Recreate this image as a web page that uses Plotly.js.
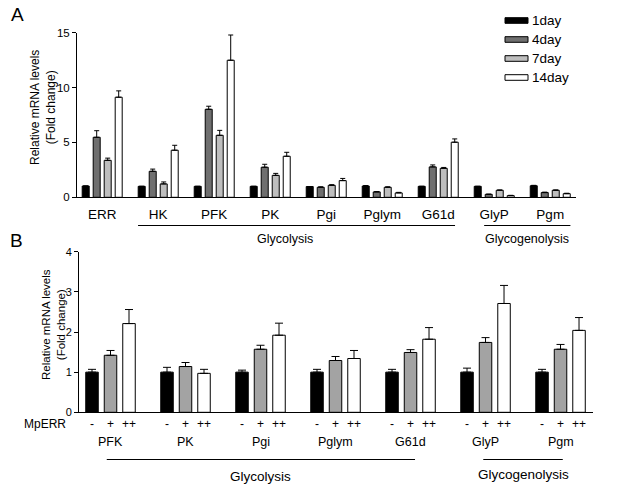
<!DOCTYPE html>
<html>
<head>
<meta charset="utf-8">
<script src="https://cdn.plot.ly/plotly-3.0.1.min.js"></script>
<style>html,body{margin:0;padding:0;background:#fff;}#chart{width:622px;height:487px;}</style>
</head>
<body>
<div id="chart"></div>
<script>
// ---------- Panel A data ----------
var genesA = ['ERR','HK','PFK','PK','Pgi','Pglym','G61d','GlyP','Pgm'];
var seriesA = ['1day','4day','7day','14day'];
var day1  = [1.03, 1.0, 1.0, 1.0, 0.98, 1.03, 1.0, 1.0, 1.05];
var day4  = [5.47, 2.37, 8.02, 2.74, 0.91, 0.49, 2.77, 0.27, 0.43];
var day7  = [3.37, 1.22, 5.65, 2.00, 1.09, 0.91, 2.64, 0.64, 0.64];
var day14 = [9.12, 4.29, 12.49, 3.74, 1.52, 0.40, 5.02, 0.15, 0.33];
var err1  = [0, 0, 0, 0, 0, 0.04, 0, 0, 0.04];
var err4  = [0.60, 0.20, 0.28, 0.27, 0.05, 0.03, 0.18, 0.02, 0.04];
var err7  = [0.20, 0.18, 0.45, 0.18, 0.06, 0.05, 0.08, 0.03, 0.03];
var err14 = [0.58, 0.45, 2.30, 0.36, 0.20, 0.05, 0.30, 0.03, 0.04];
var groupLabelsA = ['Glycolysis','Glycogenolysis'];
var groupStartA = ['HK','GlyP'];
var groupEndA = ['G61d','Pgm'];

// ---------- Panel B data ----------
var genesB = ['PFK','PK','Pgi','Pglym','G61d','GlyP','Pgm'];
var levelsB = ['-','+','++'];
var ctrlB = [1.0, 1.0, 1.0, 1.0, 1.0, 1.0, 1.0];
var plusB = [1.42, 1.14, 1.57, 1.29, 1.49, 1.74, 1.57];
var plus2B = [2.21, 0.97, 1.92, 1.34, 1.82, 2.71, 2.04];
var errCtrlB = [0.07, 0.12, 0.05, 0.07, 0.07, 0.10, 0.07];
var errPlusB = [0.12, 0.10, 0.10, 0.10, 0.07, 0.12, 0.12];
var errPlus2B = [0.35, 0.10, 0.30, 0.20, 0.29, 0.45, 0.32];
var groupLabelsB = ['Glycolysis','Glycogenolysis'];
var groupStartB = ['PFK','GlyP'];
var groupEndB = ['G61d','Pgm'];

// ---------- styles ----------
var FONT = 'Arial, "Liberation Sans", sans-serif';
var W = 622, H = 487;
function px(x){ return x / W; }
function py(y){ return 1 - y / H; }

var colorsA = ['#000000','#6f6f6f','#bebebe','#ffffff'];
var colorsB = ['#000000','#a3a3a3','#ffffff'];

var traces = [];
var valsA = [day1, day4, day7, day14];
var errsA = [err1, err4, err7, err14];
var slotA = 11/56, widthA = 7/56;
var xA = genesA.map(function(_, i){ return i; });
for (var k = 0; k < seriesA.length; k++) {
  traces.push({
    type: 'bar', name: seriesA[k], x: xA, y: valsA[k],
    xaxis: 'x', yaxis: 'y',
    width: widthA, offset: (k - 2) * slotA + (slotA - widthA) / 2,
    marker: {color: colorsA[k], line: {color: '#000', width: 1}},
    error_y: {type: 'data', array: errsA[k], arrayminus: errsA[k].map(function(){return 0;}),
              symmetric: false, color: '#000', thickness: 1, width: 2.5},
    showlegend: false, hoverinfo: 'none'
  });
}
var valsB = [ctrlB, plusB, plus2B];
var errsB = [errCtrlB, errPlusB, errPlus2B];
var slotB = 18.5/75, widthB = 12.5/75;
var xB = genesB.map(function(_, i){ return i; });
for (var k = 0; k < levelsB.length; k++) {
  traces.push({
    type: 'bar', name: levelsB[k], x: xB, y: valsB[k],
    xaxis: 'x2', yaxis: 'y2',
    width: widthB, offset: (k - 1.5) * slotB + (slotB - widthB) / 2,
    marker: {color: colorsB[k], line: {color: '#000', width: 1}},
    error_y: {type: 'data', array: errsB[k], arrayminus: errsB[k].map(function(){return 0;}),
              symmetric: false, color: '#000', thickness: 1, width: 4},
    showlegend: false, hoverinfo: 'none'
  });
}

var annotations = [];
var shapes = [];

// panel letters
annotations.push({xref:'paper', yref:'paper', x: px(17), y: py(15), text:'A', showarrow:false,
  font:{family:FONT, size:19, color:'#000'}, xanchor:'center', yanchor:'middle'});
annotations.push({xref:'paper', yref:'paper', x: px(16), y: py(241), text:'B', showarrow:false,
  font:{family:FONT, size:19, color:'#000'}, xanchor:'center', yanchor:'middle'});

// y titles
annotations.push({xref:'paper', yref:'paper', x: px(43), y: py(108), textangle:-90,
  text:'Relative mRNA levels<br>(Fold change)', showarrow:false,
  font:{family:FONT, size:12, color:'#000'}, xanchor:'center', yanchor:'middle'});
annotations.push({xref:'paper', yref:'paper', x: px(53), y: py(325), textangle:-90,
  text:'Relative mRNA levels<br>(Fold change)', showarrow:false,
  font:{family:FONT, size:11.5, color:'#000'}, xanchor:'center', yanchor:'middle'});

// legend (panel A)
var legRows = [20.5, 39.5, 58.5, 77.5];
for (var k = 0; k < seriesA.length; k++) {
  shapes.push({type:'rect', xref:'paper', yref:'paper', x0: px(505), x1: px(528),
    y0: py(legRows[k] + 2.8), y1: py(legRows[k] - 2.8),
    fillcolor: colorsA[k], line:{color:'#000', width:1}});
  annotations.push({xref:'paper', yref:'paper', x: px(530), y: py(legRows[k]), text: seriesA[k],
    showarrow:false, xanchor:'left', yanchor:'middle', font:{family:FONT, size:13.5, color:'#000'}});
}

// group lines panel A
var padA = [[0.36, 0.30, -12], [0.18, 0.36, 0]];
for (var g = 0; g < groupLabelsA.length; g++) {
  var s = genesA.indexOf(groupStartA[g]) - padA[g][0];
  var e = genesA.indexOf(groupEndA[g]) + padA[g][1];
  shapes.push({type:'line', xref:'x', yref:'paper', x0:s, x1:e, y0:py(225.5), y1:py(225.5),
    line:{color:'#000', width:1.2}});
  annotations.push({xref:'x', yref:'paper', x:(s+e)/2, xshift: padA[g][2], y:py(238.5), text: groupLabelsA[g],
    showarrow:false, xanchor:'center', yanchor:'middle', font:{family:FONT, size:12.5, color:'#000'}});
}

// panel B: MpERR row
annotations.push({xref:'paper', yref:'paper', x: px(68), y: py(424), text:'MpERR', showarrow:false,
  xanchor:'right', yanchor:'middle', font:{family:FONT, size:12, color:'#000'}});
for (var i = 0; i < genesB.length; i++) {
  for (var k = 0; k < levelsB.length; k++) {
    annotations.push({xref:'x2', yref:'paper', x: i + (k - 1) * slotB, y: py(424), text: levelsB[k],
      showarrow:false, xanchor:'center', yanchor:'middle', font:{family:FONT, size:12, color:'#000'}});
  }
  annotations.push({xref:'x2', yref:'paper', x: i, y: py(441.5), text: genesB[i],
    showarrow:false, xanchor:'center', yanchor:'middle', font:{family:FONT, size:12.5, color:'#000'}});
}
var padB = [[0.05, 0.06], [0.03, 0.03]];
var labelYB = [476, 474];
for (var g = 0; g < groupLabelsB.length; g++) {
  var s = genesB.indexOf(groupStartB[g]) - padB[g][0];
  var e = genesB.indexOf(groupEndB[g]) + padB[g][1];
  shapes.push({type:'line', xref:'x2', yref:'paper', x0:s, x1:e, y0:py(459.5), y1:py(459.5),
    line:{color:'#000', width:1.2}});
  annotations.push({xref:'x2', yref:'paper', x:(s+e)/2, y:py(labelYB[g]), text: groupLabelsB[g],
    showarrow:false, xanchor:'center', yanchor:'middle', font:{family:FONT, size:13.5, color:'#000'}});
}

var axisBase = {showline:true, linecolor:'#000', linewidth:1, showgrid:false, zeroline:false,
  automargin:false, fixedrange:true, tickcolor:'#000'};

var layout = {
  width: W, height: H,
  margin: {l:0, r:0, t:0, b:0},
  paper_bgcolor:'#fff', plot_bgcolor:'#fff',
  barmode: 'overlay',
  font: {family: FONT, color:'#000'},
  showlegend: false,
  xaxis: Object.assign({}, axisBase, {
    domain:[px(77), px(576)], range:[-0.45, 8.46], anchor:'y',
    tickmode:'array', tickvals: xA, ticktext: genesA, ticks:'', ticklabelstandoff: 4,
    tickfont:{family:FONT, size:13.5, color:'#000'}
  }),
  yaxis: Object.assign({}, axisBase, {
    domain:[py(197.3), py(32.7)], range:[0, 15], anchor:'x',
    tickmode:'array', tickvals:[0,5,10,15], ticks:'outside', ticklen:4,
    tickfont:{family:FONT, size:11.5, color:'#000'}
  }),
  xaxis2: Object.assign({}, axisBase, {
    domain:[px(79), px(593)], range:[-0.42, 6.433], anchor:'y2',
    showticklabels:false, ticks:''
  }),
  yaxis2: Object.assign({}, axisBase, {
    domain:[py(412.3), py(251.7)], range:[0, 4], anchor:'x2',
    tickmode:'array', tickvals:[0,1,2,3,4], ticks:'outside', ticklen:4,
    tickfont:{family:FONT, size:11, color:'#000'}
  }),
  annotations: annotations,
  shapes: shapes
};

Plotly.newPlot('chart', traces, layout, {staticPlot:true, displayModeBar:false});
</script>
</body>
</html>
